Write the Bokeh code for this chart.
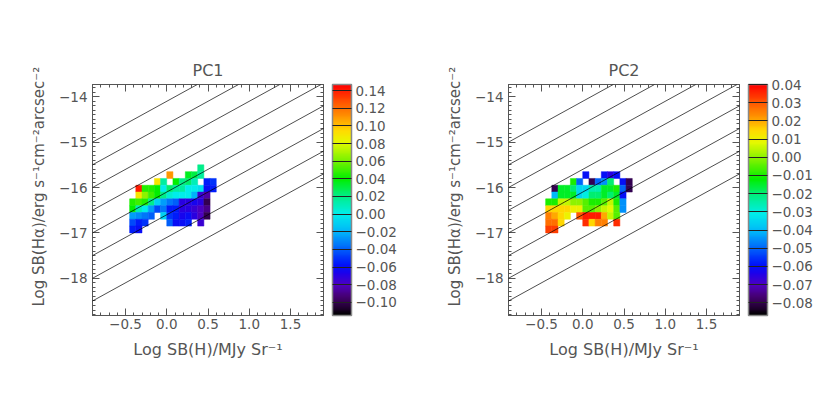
import numpy as np
from bokeh.plotting import figure
from bokeh.models import (LinearColorMapper, ColorBar, FixedTicker, SingleIntervalTicker,
                          LinearAxis, Slope, ColumnDataSource, Range1d, AllLabels, Title)
from bokeh.transform import transform
from bokeh.layouts import row
from bokeh.embed import file_html
from bokeh.resources import INLINE

# ---------------- data ----------------
N = None
x_centers = [-0.4125, -0.3375, -0.2625, -0.1875, -0.1125, -0.0375, 0.0375,
             0.1125, 0.1875, 0.2625, 0.3375, 0.4125, 0.4875, 0.5625]
y_centers = [-15.575, -15.725, -15.875, -16.025, -16.175, -16.325, -16.475,
             -16.625, -16.775, -16.925]

pc1_grid = [
    [N, N, N, N, N, N, N, N, N, N, N, 0.02, N, N],
    [N, N, N, N, N, N, 0.11, N, N, 0.035, 0.03, 0.015, N, N],
    [N, N, N, N, 0.09, 0.015, N, 0.04, 0.02, 0.025, 0.01, N, -0.055, -0.05],
    [N, 0.14, 0.045, 0.045, 0.04, 0.0, 0.025, 0.015, 0.015, 0.0, 0.0, -0.005, -0.06, -0.055],
    [N, 0.09, 0.065, 0.05, 0.04, 0.02, 0.005, 0.0, 0.0, 0.0, -0.02, -0.075, -0.085, N],
    [0.045, 0.05, 0.045, 0.02, -0.01, -0.025, -0.035, -0.04, -0.07, -0.07, -0.065, -0.07, -0.1, N],
    [0.04, 0.01, 0.0, -0.025, -0.045, -0.035, -0.055, -0.055, -0.07, -0.07, -0.075, -0.08, -0.09, N],
    [-0.025, -0.03, -0.035, -0.04, N, -0.01, -0.05, -0.055, -0.065, -0.06, -0.07, -0.08, -0.1, N],
    [-0.045, -0.055, -0.05, N, N, N, -0.04, -0.06, -0.06, -0.055, N, -0.075, N, N],
    [-0.055, -0.06, N, N, N, N, N, N, N, N, N, N, N, N],
]

pc2_grid = [
    [N, N, N, N, N, N, N, N, N, N, N, N, N, N],
    [N, N, N, N, N, N, -0.06, N, N, -0.06, -0.065, -0.06, N, N],
    [N, N, N, N, -0.01, -0.05, N, -0.08, -0.05, -0.045, -0.02, N, -0.06, -0.08],
    [N, -0.08, -0.015, -0.015, -0.02, -0.035, -0.035, -0.025, -0.025, -0.015, -0.015, -0.01, -0.05, -0.08],
    [N, -0.04, -0.015, -0.015, -0.015, -0.035, -0.03, -0.02, -0.02, -0.015, -0.02, -0.015, -0.06, N],
    [-0.01, -0.01, 0.005, 0.005, 0.0, 0.0, -0.005, -0.01, -0.01, -0.005, 0.005, -0.01, -0.045, N],
    [0.015, 0.015, 0.015, 0.015, 0.01, 0.01, -0.005, -0.005, 0.0, 0.005, 0.008, -0.005, -0.045, N],
    [0.025, 0.02, 0.015, 0.01, N, 0.03, 0.037, 0.037, 0.037, 0.02, 0.005, -0.005, N, N],
    [0.027, 0.027, 0.015, N, N, N, 0.035, 0.015, 0.025, 0.025, N, 0.035, N, N],
    [0.033, 0.033, N, N, N, N, N, N, N, N, N, N, N, N],
]

line_intercepts = [-14.1, -14.6, -15.1, -15.6, -16.1, -16.6, -17.1, -17.6]

x_tick_labels = {-0.5: "\u22120.5", 0: "0.0", 0.5: "0.5", 1: "1.0", 1.5: "1.5"}
y_tick_labels = {-14: "\u221214", -15: "\u221215", -16: "\u221216", -17: "\u221217", -18: "\u221218"}

pc1_cb_ticks = [0.14, 0.12, 0.1, 0.08, 0.06, 0.04, 0.02, 0, -0.02, -0.04, -0.06, -0.08, -0.1]
pc1_cb_labels = ["0.14", "0.12", "0.10", "0.08", "0.06", "0.04", "0.02", "0.00",
                 "\u22120.02", "\u22120.04", "\u22120.06", "\u22120.08", "\u22120.10"]
pc1_range = (-0.115, 0.147)

pc2_cb_ticks = [0.04, 0.03, 0.02, 0.01, 0, -0.01, -0.02, -0.03, -0.04, -0.05, -0.06, -0.07, -0.08]
pc2_cb_labels = ["0.04", "0.03", "0.02", "0.01", "0.00", "\u22120.01", "\u22120.02", "\u22120.03",
                 "\u22120.04", "\u22120.05", "\u22120.06", "\u22120.07", "\u22120.08"]
pc2_range = (-0.087, 0.040)

x_label = "Log SB(H)/MJy Sr\u207b\u00b9"
y_label = "Log SB(H\u03b1)/erg s\u207b\u00b9cm\u207b\u00b2arcsec\u207b\u00b2"

# ---------------- colour table (IDL-like rainbow with black) ----------------
anchors = [
    (0.00, (0, 0, 0)), (0.04, (40, 0, 60)), (0.08, (70, 0, 115)), (0.13, (80, 0, 190)),
    (0.18, (30, 0, 235)), (0.22, (0, 20, 250)), (0.29, (0, 100, 250)), (0.36, (0, 180, 250)),
    (0.44, (0, 238, 235)), (0.52, (0, 238, 130)), (0.59, (0, 238, 0)), (0.67, (120, 242, 0)),
    (0.75, (230, 250, 0)), (0.80, (255, 220, 0)), (0.86, (255, 150, 0)), (0.92, (255, 90, 0)),
    (1.00, (255, 0, 0)),
]
fr = np.linspace(0, 1, 256)
af = [a[0] for a in anchors]
chan = [np.interp(fr, af, [a[1][k] for a in anchors]) for k in range(3)]
PALETTE = ["#%02x%02x%02x" % (int(r), int(g), int(b)) for r, g, b in zip(*chan)]

GRAY = "#555555"
FONT = "DejaVu Sans"


def cells(grid):
    xs, ys, vs = [], [], []
    for j, rowv in enumerate(grid):
        for i, v in enumerate(rowv):
            if v is not None:
                xs.append(x_centers[i]); ys.append(y_centers[j]); vs.append(v)
    return ColumnDataSource(dict(x=xs, y=ys, v=vs))


def style_axis(ax):
    ax.axis_line_color = GRAY
    ax.major_tick_line_color = GRAY
    ax.minor_tick_line_color = GRAY
    ax.major_tick_in = 7
    ax.major_tick_out = 0
    ax.minor_tick_in = 3
    ax.minor_tick_out = 0


def panel(title, grid, rng, cb_ticks, cb_labels, bl, br):
    mapper = LinearColorMapper(palette=PALETTE, low=rng[0], high=rng[1])
    p = figure(frame_width=231, frame_height=231,
               x_range=Range1d(-0.9, 1.9), y_range=Range1d(-18.82, -13.73),
               output_backend="svg", toolbar_location=None,
               min_border_left=bl, min_border_right=br, min_border_top=84, min_border_bottom=96,
               x_axis_label=x_label)
    p.grid.visible = False
    p.outline_line_color = GRAY
    p.title.text = title
    p.title.align = "center"
    p.title.text_font = FONT
    p.title.text_font_size = "16px"
    p.title.text_font_style = "normal"
    p.title.text_color = GRAY

    src = cells(grid)
    p.rect("x", "y", width=0.075, height=0.15, source=src,
           fill_color=transform("v", mapper), line_color=transform("v", mapper), line_width=0.5)
    for c in line_intercepts:
        p.add_layout(Slope(gradient=1, y_intercept=c, line_color="black", line_width=0.7))

    xt = SingleIntervalTicker(interval=0.5, num_minor_ticks=5)
    yt = SingleIntervalTicker(interval=1, num_minor_ticks=10)
    p.xaxis.ticker = xt
    p.yaxis.ticker = yt
    p.xaxis.major_label_overrides = x_tick_labels
    p.yaxis.major_label_overrides = y_tick_labels
    for ax in (p.xaxis[0], p.yaxis[0]):
        style_axis(ax)
        ax.major_label_text_font = FONT
        ax.major_label_text_font_size = "13.5px"
        ax.major_label_text_color = GRAY
        ax.axis_label_text_font = FONT
        ax.axis_label_text_font_size = "16px"
        ax.axis_label_text_font_style = "normal"
        ax.axis_label_text_color = GRAY
    p.xaxis.major_label_standoff = 3
    p.xaxis.axis_label_standoff = 8
    p.yaxis.major_label_standoff = 5

    ylab = Title(text=y_label, align="left", offset=9, standoff=17,
                 text_font=FONT, text_font_size="15px", text_font_style="normal",
                 text_color=GRAY)
    p.add_layout(ylab, "left")

    top = LinearAxis(ticker=xt, major_label_text_font_size="0px", major_label_text_color=None,
                     major_label_standoff=0)
    right = LinearAxis(ticker=yt, major_label_text_font_size="0px", major_label_text_color=None,
                       major_label_standoff=0)
    style_axis(top)
    style_axis(right)
    p.add_layout(top, "above")
    p.add_layout(right, "right")

    cb = ColorBar(color_mapper=mapper, ticker=FixedTicker(ticks=cb_ticks, minor_ticks=[]),
                  major_label_overrides=dict(zip(cb_ticks, cb_labels)),
                  major_label_policy=AllLabels(),
                  width=19, height=231, padding=0, margin=0, location=(240, 0),
                  major_tick_in=19, major_tick_out=0, major_tick_line_color="#222222",
                  minor_tick_line_color=None,
                  bar_line_color="#888888", bar_line_width=1.5,
                  major_label_text_font=FONT, major_label_text_font_size="13.5px",
                  major_label_text_color=GRAY, label_standoff=4,
                  background_fill_alpha=0)
    p.add_layout(cb, "center")
    return p


p1 = panel("PC1", pc1_grid, pc1_range, pc1_cb_ticks, pc1_cb_labels, 92, 95)
p2 = panel("PC2", pc2_grid, pc2_range, pc2_cb_ticks, pc2_cb_labels, 90, 85)
layout = row(p1, p2, spacing=0)

open("out.html", "w").write(file_html(layout, INLINE))
